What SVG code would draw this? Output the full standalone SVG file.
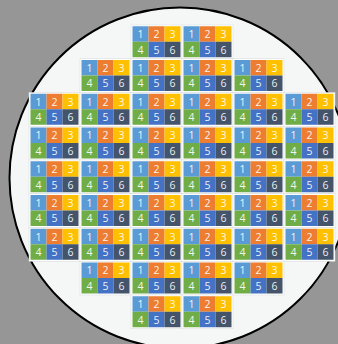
<svg xmlns="http://www.w3.org/2000/svg" width="338" height="344" viewBox="0 0 338 344">
<style>
.b{fill:#ffffff;stroke:#d6d9d9;stroke-width:0.5}
.c1{fill:#5b9bd5}.c2{fill:#ed7d31}.c3{fill:#ffc000}.c4{fill:#70ad47}.c5{fill:#4472c4}.c6{fill:#44546a}
text{font-family:"Open Sans","Liberation Sans",sans-serif;font-size:10.5px;fill:#ffffff;fill-opacity:0.92;text-anchor:middle}
</style>
<defs>
<g id="tpl">
<rect class="b" width="51" height="33.75"/>
<rect class="c1" x="1.5" y="1.25" width="16" height="15.5"/>
<rect class="c2" x="17.5" y="1.25" width="16" height="15.5"/>
<rect class="c3" x="33.5" y="1.25" width="16" height="15.5"/>
<rect class="c4" x="1.5" y="16.75" width="16" height="15.5"/>
<rect class="c5" x="17.5" y="16.75" width="16" height="15.5"/>
<rect class="c6" x="33.5" y="16.75" width="16" height="15.5"/>
</g>
</defs>
<rect width="338" height="344" fill="#959695"/>
<circle id="wafer" cx="180" cy="178" r="170.5" fill="#f5f7f7" stroke="#000000" stroke-width="2"/>
<g id="dies">
<g id="die-0-2" transform="translate(131,25)"><use href="#tpl"/><text x="9.5" y="13">1</text><text x="25.5" y="13">2</text><text x="41.5" y="13">3</text><text x="9.5" y="28.5">4</text><text x="25.5" y="28.5">5</text><text x="41.5" y="28.5">6</text></g>
<g id="die-0-3" transform="translate(182,25)"><use href="#tpl"/><text x="9.5" y="13">1</text><text x="25.5" y="13">2</text><text x="41.5" y="13">3</text><text x="9.5" y="28.5">4</text><text x="25.5" y="28.5">5</text><text x="41.5" y="28.5">6</text></g>

<g id="die-1-1" transform="translate(80,58.75)"><use href="#tpl"/><text x="9.5" y="13">1</text><text x="25.5" y="13">2</text><text x="41.5" y="13">3</text><text x="9.5" y="28.5">4</text><text x="25.5" y="28.5">5</text><text x="41.5" y="28.5">6</text></g>
<g id="die-1-2" transform="translate(131,58.75)"><use href="#tpl"/><text x="9.5" y="13">1</text><text x="25.5" y="13">2</text><text x="41.5" y="13">3</text><text x="9.5" y="28.5">4</text><text x="25.5" y="28.5">5</text><text x="41.5" y="28.5">6</text></g>
<g id="die-1-3" transform="translate(182,58.75)"><use href="#tpl"/><text x="9.5" y="13">1</text><text x="25.5" y="13">2</text><text x="41.5" y="13">3</text><text x="9.5" y="28.5">4</text><text x="25.5" y="28.5">5</text><text x="41.5" y="28.5">6</text></g>
<g id="die-1-4" transform="translate(233,58.75)"><use href="#tpl"/><text x="9.5" y="13">1</text><text x="25.5" y="13">2</text><text x="41.5" y="13">3</text><text x="9.5" y="28.5">4</text><text x="25.5" y="28.5">5</text><text x="41.5" y="28.5">6</text></g>

<g id="die-2-0" transform="translate(29,92.5)"><use href="#tpl"/><text x="9.5" y="13">1</text><text x="25.5" y="13">2</text><text x="41.5" y="13">3</text><text x="9.5" y="28.5">4</text><text x="25.5" y="28.5">5</text><text x="41.5" y="28.5">6</text></g>
<g id="die-2-1" transform="translate(80,92.5)"><use href="#tpl"/><text x="9.5" y="13">1</text><text x="25.5" y="13">2</text><text x="41.5" y="13">3</text><text x="9.5" y="28.5">4</text><text x="25.5" y="28.5">5</text><text x="41.5" y="28.5">6</text></g>
<g id="die-2-2" transform="translate(131,92.5)"><use href="#tpl"/><text x="9.5" y="13">1</text><text x="25.5" y="13">2</text><text x="41.5" y="13">3</text><text x="9.5" y="28.5">4</text><text x="25.5" y="28.5">5</text><text x="41.5" y="28.5">6</text></g>
<g id="die-2-3" transform="translate(182,92.5)"><use href="#tpl"/><text x="9.5" y="13">1</text><text x="25.5" y="13">2</text><text x="41.5" y="13">3</text><text x="9.5" y="28.5">4</text><text x="25.5" y="28.5">5</text><text x="41.5" y="28.5">6</text></g>
<g id="die-2-4" transform="translate(233,92.5)"><use href="#tpl"/><text x="9.5" y="13">1</text><text x="25.5" y="13">2</text><text x="41.5" y="13">3</text><text x="9.5" y="28.5">4</text><text x="25.5" y="28.5">5</text><text x="41.5" y="28.5">6</text></g>
<g id="die-2-5" transform="translate(284,92.5)"><use href="#tpl"/><text x="9.5" y="13">1</text><text x="25.5" y="13">2</text><text x="41.5" y="13">3</text><text x="9.5" y="28.5">4</text><text x="25.5" y="28.5">5</text><text x="41.5" y="28.5">6</text></g>

<g id="die-3-0" transform="translate(29,126.25)"><use href="#tpl"/><text x="9.5" y="13">1</text><text x="25.5" y="13">2</text><text x="41.5" y="13">3</text><text x="9.5" y="28.5">4</text><text x="25.5" y="28.5">5</text><text x="41.5" y="28.5">6</text></g>
<g id="die-3-1" transform="translate(80,126.25)"><use href="#tpl"/><text x="9.5" y="13">1</text><text x="25.5" y="13">2</text><text x="41.5" y="13">3</text><text x="9.5" y="28.5">4</text><text x="25.5" y="28.5">5</text><text x="41.5" y="28.5">6</text></g>
<g id="die-3-2" transform="translate(131,126.25)"><use href="#tpl"/><text x="9.5" y="13">1</text><text x="25.5" y="13">2</text><text x="41.5" y="13">3</text><text x="9.5" y="28.5">4</text><text x="25.5" y="28.5">5</text><text x="41.5" y="28.5">6</text></g>
<g id="die-3-3" transform="translate(182,126.25)"><use href="#tpl"/><text x="9.5" y="13">1</text><text x="25.5" y="13">2</text><text x="41.5" y="13">3</text><text x="9.5" y="28.5">4</text><text x="25.5" y="28.5">5</text><text x="41.5" y="28.5">6</text></g>
<g id="die-3-4" transform="translate(233,126.25)"><use href="#tpl"/><text x="9.5" y="13">1</text><text x="25.5" y="13">2</text><text x="41.5" y="13">3</text><text x="9.5" y="28.5">4</text><text x="25.5" y="28.5">5</text><text x="41.5" y="28.5">6</text></g>
<g id="die-3-5" transform="translate(284,126.25)"><use href="#tpl"/><text x="9.5" y="13">1</text><text x="25.5" y="13">2</text><text x="41.5" y="13">3</text><text x="9.5" y="28.5">4</text><text x="25.5" y="28.5">5</text><text x="41.5" y="28.5">6</text></g>

<g id="die-4-0" transform="translate(29,160)"><use href="#tpl"/><text x="9.5" y="13">1</text><text x="25.5" y="13">2</text><text x="41.5" y="13">3</text><text x="9.5" y="28.5">4</text><text x="25.5" y="28.5">5</text><text x="41.5" y="28.5">6</text></g>
<g id="die-4-1" transform="translate(80,160)"><use href="#tpl"/><text x="9.5" y="13">1</text><text x="25.5" y="13">2</text><text x="41.5" y="13">3</text><text x="9.5" y="28.5">4</text><text x="25.5" y="28.5">5</text><text x="41.5" y="28.5">6</text></g>
<g id="die-4-2" transform="translate(131,160)"><use href="#tpl"/><text x="9.5" y="13">1</text><text x="25.5" y="13">2</text><text x="41.5" y="13">3</text><text x="9.5" y="28.5">4</text><text x="25.5" y="28.5">5</text><text x="41.5" y="28.5">6</text></g>
<g id="die-4-3" transform="translate(182,160)"><use href="#tpl"/><text x="9.5" y="13">1</text><text x="25.5" y="13">2</text><text x="41.5" y="13">3</text><text x="9.5" y="28.5">4</text><text x="25.5" y="28.5">5</text><text x="41.5" y="28.5">6</text></g>
<g id="die-4-4" transform="translate(233,160)"><use href="#tpl"/><text x="9.5" y="13">1</text><text x="25.5" y="13">2</text><text x="41.5" y="13">3</text><text x="9.5" y="28.5">4</text><text x="25.5" y="28.5">5</text><text x="41.5" y="28.5">6</text></g>
<g id="die-4-5" transform="translate(284,160)"><use href="#tpl"/><text x="9.5" y="13">1</text><text x="25.5" y="13">2</text><text x="41.5" y="13">3</text><text x="9.5" y="28.5">4</text><text x="25.5" y="28.5">5</text><text x="41.5" y="28.5">6</text></g>

<g id="die-5-0" transform="translate(29,193.75)"><use href="#tpl"/><text x="9.5" y="13">1</text><text x="25.5" y="13">2</text><text x="41.5" y="13">3</text><text x="9.5" y="28.5">4</text><text x="25.5" y="28.5">5</text><text x="41.5" y="28.5">6</text></g>
<g id="die-5-1" transform="translate(80,193.75)"><use href="#tpl"/><text x="9.5" y="13">1</text><text x="25.5" y="13">2</text><text x="41.5" y="13">3</text><text x="9.5" y="28.5">4</text><text x="25.5" y="28.5">5</text><text x="41.5" y="28.5">6</text></g>
<g id="die-5-2" transform="translate(131,193.75)"><use href="#tpl"/><text x="9.5" y="13">1</text><text x="25.5" y="13">2</text><text x="41.5" y="13">3</text><text x="9.5" y="28.5">4</text><text x="25.5" y="28.5">5</text><text x="41.5" y="28.5">6</text></g>
<g id="die-5-3" transform="translate(182,193.75)"><use href="#tpl"/><text x="9.5" y="13">1</text><text x="25.5" y="13">2</text><text x="41.5" y="13">3</text><text x="9.5" y="28.5">4</text><text x="25.5" y="28.5">5</text><text x="41.5" y="28.5">6</text></g>
<g id="die-5-4" transform="translate(233,193.75)"><use href="#tpl"/><text x="9.5" y="13">1</text><text x="25.5" y="13">2</text><text x="41.5" y="13">3</text><text x="9.5" y="28.5">4</text><text x="25.5" y="28.5">5</text><text x="41.5" y="28.5">6</text></g>
<g id="die-5-5" transform="translate(284,193.75)"><use href="#tpl"/><text x="9.5" y="13">1</text><text x="25.5" y="13">2</text><text x="41.5" y="13">3</text><text x="9.5" y="28.5">4</text><text x="25.5" y="28.5">5</text><text x="41.5" y="28.5">6</text></g>

<g id="die-6-0" transform="translate(29,227.5)"><use href="#tpl"/><text x="9.5" y="13">1</text><text x="25.5" y="13">2</text><text x="41.5" y="13">3</text><text x="9.5" y="28.5">4</text><text x="25.5" y="28.5">5</text><text x="41.5" y="28.5">6</text></g>
<g id="die-6-1" transform="translate(80,227.5)"><use href="#tpl"/><text x="9.5" y="13">1</text><text x="25.5" y="13">2</text><text x="41.5" y="13">3</text><text x="9.5" y="28.5">4</text><text x="25.5" y="28.5">5</text><text x="41.5" y="28.5">6</text></g>
<g id="die-6-2" transform="translate(131,227.5)"><use href="#tpl"/><text x="9.5" y="13">1</text><text x="25.5" y="13">2</text><text x="41.5" y="13">3</text><text x="9.5" y="28.5">4</text><text x="25.5" y="28.5">5</text><text x="41.5" y="28.5">6</text></g>
<g id="die-6-3" transform="translate(182,227.5)"><use href="#tpl"/><text x="9.5" y="13">1</text><text x="25.5" y="13">2</text><text x="41.5" y="13">3</text><text x="9.5" y="28.5">4</text><text x="25.5" y="28.5">5</text><text x="41.5" y="28.5">6</text></g>
<g id="die-6-4" transform="translate(233,227.5)"><use href="#tpl"/><text x="9.5" y="13">1</text><text x="25.5" y="13">2</text><text x="41.5" y="13">3</text><text x="9.5" y="28.5">4</text><text x="25.5" y="28.5">5</text><text x="41.5" y="28.5">6</text></g>
<g id="die-6-5" transform="translate(284,227.5)"><use href="#tpl"/><text x="9.5" y="13">1</text><text x="25.5" y="13">2</text><text x="41.5" y="13">3</text><text x="9.5" y="28.5">4</text><text x="25.5" y="28.5">5</text><text x="41.5" y="28.5">6</text></g>

<g id="die-7-1" transform="translate(80,261.25)"><use href="#tpl"/><text x="9.5" y="13">1</text><text x="25.5" y="13">2</text><text x="41.5" y="13">3</text><text x="9.5" y="28.5">4</text><text x="25.5" y="28.5">5</text><text x="41.5" y="28.5">6</text></g>
<g id="die-7-2" transform="translate(131,261.25)"><use href="#tpl"/><text x="9.5" y="13">1</text><text x="25.5" y="13">2</text><text x="41.5" y="13">3</text><text x="9.5" y="28.5">4</text><text x="25.5" y="28.5">5</text><text x="41.5" y="28.5">6</text></g>
<g id="die-7-3" transform="translate(182,261.25)"><use href="#tpl"/><text x="9.5" y="13">1</text><text x="25.5" y="13">2</text><text x="41.5" y="13">3</text><text x="9.5" y="28.5">4</text><text x="25.5" y="28.5">5</text><text x="41.5" y="28.5">6</text></g>
<g id="die-7-4" transform="translate(233,261.25)"><use href="#tpl"/><text x="9.5" y="13">1</text><text x="25.5" y="13">2</text><text x="41.5" y="13">3</text><text x="9.5" y="28.5">4</text><text x="25.5" y="28.5">5</text><text x="41.5" y="28.5">6</text></g>

<g id="die-8-2" transform="translate(131,295)"><use href="#tpl"/><text x="9.5" y="13">1</text><text x="25.5" y="13">2</text><text x="41.5" y="13">3</text><text x="9.5" y="28.5">4</text><text x="25.5" y="28.5">5</text><text x="41.5" y="28.5">6</text></g>
<g id="die-8-3" transform="translate(182,295)"><use href="#tpl"/><text x="9.5" y="13">1</text><text x="25.5" y="13">2</text><text x="41.5" y="13">3</text><text x="9.5" y="28.5">4</text><text x="25.5" y="28.5">5</text><text x="41.5" y="28.5">6</text></g>
</g>
</svg>
